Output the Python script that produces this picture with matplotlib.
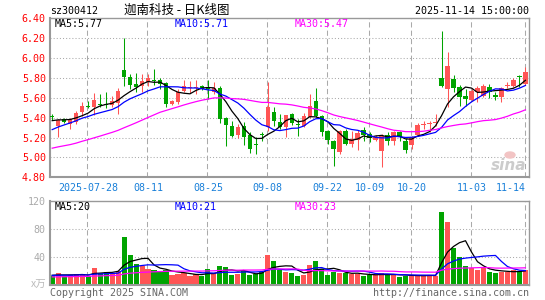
import matplotlib
matplotlib.use("Agg")
import matplotlib.pyplot as plt
import numpy as np
import pandas as pd

plt.rcParams['font.family'] = ['DejaVu Sans Mono', 'Noto Sans CJK SC']

# daily candles 2025-07-18 .. 2025-11-14 (80 trading days)
OPEN = [5.42, 5.32, 5.39, 5.34, 5.36, 5.46, 5.52, 5.51, 5.54, 5.54,
        5.53, 5.55, 5.88, 5.81, 5.74, 5.72, 5.76, 5.78, 5.78, 5.75,
        5.54, 5.56, 5.67, 5.70, 5.70, 5.72, 5.70, 5.66, 5.70, 5.40,
        5.32, 5.23, 5.32, 5.23, 5.14, 5.24, 5.31, 5.46, 5.36, 5.31,
        5.44, 5.34, 5.32, 5.41, 5.57, 5.42, 5.27, 5.17, 5.05, 5.27,
        5.14, 5.18, 5.28, 5.24, 5.18, 5.06, 5.23, 5.17, 5.26, 5.17,
        5.12, 5.23, 5.33, 5.34, 5.35, 5.80, 5.69, 5.79, 5.71, 5.62,
        5.58, 5.66, 5.62, 5.71, 5.63, 5.61, 5.72, 5.72, 5.82, 5.74]
HIGH = [5.44, 5.39, 5.40, 5.40, 5.47, 5.56, 5.57, 5.65, 5.64, 5.66,
        5.62, 5.70, 6.20, 5.84, 5.85, 5.84, 5.84, 5.89, 5.80, 5.76,
        5.58, 5.69, 5.78, 5.77, 5.78, 5.73, 5.78, 5.76, 5.72, 5.41,
        5.37, 5.34, 5.36, 5.26, 5.21, 5.26, 5.76, 5.51, 5.44, 5.43,
        5.45, 5.39, 5.45, 5.64, 5.70, 5.43, 5.28, 5.18, 5.28, 5.29,
        5.27, 5.28, 5.31, 5.26, 5.23, 5.24, 5.26, 5.27, 5.27, 5.20,
        5.22, 5.35, 5.37, 5.37, 5.44, 6.27, 6.06, 5.83, 5.73, 5.69,
        5.69, 5.72, 5.74, 5.74, 5.66, 5.71, 5.76, 5.80, 5.83, 5.91]
LOW = [5.38, 5.21, 5.35, 5.29, 5.34, 5.42, 5.50, 5.43, 5.51, 5.50,
       5.51, 5.44, 5.72, 5.69, 5.66, 5.66, 5.72, 5.73, 5.69, 5.51,
       5.53, 5.54, 5.66, 5.65, 5.64, 5.68, 5.59, 5.64, 5.35, 5.11,
       5.21, 5.20, 5.12, 5.04, 5.03, 5.17, 5.27, 5.32, 5.29, 5.21,
       5.33, 5.22, 5.31, 5.40, 5.41, 5.22, 5.14, 4.91, 5.03, 5.12,
       5.10, 5.07, 5.17, 5.16, 5.17, 4.90, 5.13, 5.12, 5.17, 5.04,
       5.08, 5.22, 5.29, 5.26, 5.32, 5.71, 5.51, 5.66, 5.52, 5.52,
       5.57, 5.56, 5.61, 5.60, 5.58, 5.56, 5.70, 5.71, 5.71, 5.73]
CLOSE = [5.41, 5.38, 5.36, 5.39, 5.45, 5.52, 5.51, 5.58, 5.53, 5.53,
         5.57, 5.67, 5.81, 5.73, 5.71, 5.77, 5.80, 5.77, 5.74, 5.54,
         5.57, 5.66, 5.72, 5.71, 5.71, 5.69, 5.69, 5.70, 5.39, 5.33,
         5.22, 5.31, 5.21, 5.08, 5.13, 5.23, 5.51, 5.37, 5.31, 5.43,
         5.35, 5.33, 5.42, 5.52, 5.42, 5.26, 5.18, 5.08, 5.27, 5.14,
         5.19, 5.25, 5.23, 5.20, 5.21, 5.22, 5.17, 5.26, 5.21, 5.07,
         5.21, 5.33, 5.34, 5.35, 5.36, 5.72, 5.92, 5.70, 5.61, 5.59,
         5.67, 5.70, 5.72, 5.66, 5.61, 5.70, 5.73, 5.78, 5.81, 5.86]
VOLUME = [13.8, 17.1, 13.8, 14.8, 15.7, 15.7, 13.3, 25.2, 17.1, 19.5,
          17.1, 21.0, 69.0, 43.3, 30.0, 27.6, 22.8, 21.9, 20.5, 21.9,
          14.8, 16.2, 17.1, 13.8, 15.7, 13.8, 23.3, 17.1, 27.6, 26.7,
          14.8, 16.2, 20.5, 14.8, 15.7, 19.5, 43.3, 34.8, 21.9, 19.5,
          18.1, 13.8, 14.8, 29.0, 34.8, 23.3, 14.8, 19.5, 18.1, 17.1,
          16.2, 15.7, 13.8, 14.8, 14.8, 18.1, 14.8, 14.8, 12.4, 13.8,
          14.8, 13.8, 13.8, 13.8, 13.8, 105.0, 91.0, 53.8, 41.0, 27.6,
          24.3, 21.9, 24.3, 19.5, 18.1, 19.5, 18.5, 21.5, 21.0, 22.5]

# estimated closes / volumes before the window, only to seed the moving averages
PRE_CLOSE = [4.98, 5.02, 5.05, 5.00, 4.96, 5.01, 5.04, 5.00, 4.97, 5.02,
             5.05, 5.03, 4.99, 4.95, 4.97, 5.00, 4.98, 4.96, 4.99, 5.02,
             5.12, 5.15, 5.19, 5.23, 5.26, 5.34, 5.36, 5.37, 5.37]
PRE_VOLUME = [10.5, 11.0, 12.0, 10.0, 11.5, 10.8, 11.2, 9.8, 10.5, 11.0,
              12.0, 10.2, 10.8, 11.5, 10.0, 11.0, 10.4, 10.9, 11.3, 10.6,
              13.5, 14.0, 14.5, 13.0, 14.2, 14.8, 13.6, 14.4, 15.0]

TICK_POS = [6, 16, 26, 36, 46, 53, 60, 70, 79]
TICK_LABELS = ["2025-07-28", "08-11", "08-25", "09-08", "09-22",
               "10-09", "10-20", "11-03", "11-14"]
PRICE_TICKS = [4.80, 5.00, 5.20, 5.40, 5.60, 5.80, 6.00, 6.20, 6.40]
VOL_TICKS = [40, 80, 120]

RED = "#ff5555"
GREEN = "#00a400"
GRID = "#aaaaaa"
W, H = 545, 300


def box(l, t, r, b):
    return [l / W, 1 - b / H, (r - l) / W, (b - t) / H]


def ftext(x, y, s, **kw):
    kw.setdefault("fontsize", 7.2)
    kw.setdefault("va", "center")
    fig.text(x / W, 1 - y / H, s, **kw)


o, h, l, c = map(np.array, (OPEN, HIGH, LOW, CLOSE))
vol = np.array(VOLUME)
x = np.arange(len(c))
up = c >= o
colors = np.where(up, RED, GREEN)

closes = pd.Series(PRE_CLOSE + CLOSE)
vols = pd.Series(PRE_VOLUME + VOLUME)
n0 = len(PRE_CLOSE)

fig = plt.figure(figsize=(W / 100, H / 100), dpi=100)
fig.patch.set_facecolor("white")
ax = fig.add_axes(box(50, 18.3, 529, 177.3))
axv = fig.add_axes(box(50, 201.3, 529, 285.3))

xlim = ((50 - 52.2) / 5.99, (529 - 52.2) / 5.99)
for a in (ax, axv):
    a.set_xlim(*xlim)
    for p in TICK_POS:
        a.axvline(p - 0.15, color=GRID, lw=0.75, ls=(0, (5, 3)), zorder=0)
    for side in ("top", "right"):
        a.spines[side].set_color("#999999")
        a.spines[side].set_linewidth(1)
    for side in ("left", "bottom"):
        a.spines[side].set_color("#999999")
        a.spines[side].set_linewidth(1.5)
    a.tick_params(length=0)

# price panel
ax.set_ylim(4.80, 6.40)
for p in PRICE_TICKS[1:-1]:
    ax.axhline(p, color=GRID, lw=0.75, ls=(0, (1, 2)), zorder=0)
ax.vlines(x, l, h, colors=colors, lw=0.75, zorder=2)
body = np.maximum(np.abs(c - o), 0.006)
ax.bar(x, body, bottom=np.minimum(o, c), width=0.75, color=colors,
       linewidth=0, zorder=3)
for win, col in ((5, "black"), (10, "#0000ff"), (30, "#ff00ff")):
    ma = closes.rolling(win).mean().iloc[n0:].to_numpy()
    ax.plot(x, ma, color=col, lw=0.9, zorder=4)
ax.set_yticks(PRICE_TICKS)
ax.set_yticklabels([f"{p:.2f}" for p in PRICE_TICKS], color="red", fontsize=7.2)
ax.tick_params(axis="y", pad=3)
ax.set_xticks(TICK_POS)
ax.set_xticklabels(TICK_LABELS, color="#1a80d9", fontsize=7.2)
ax.get_xticklabels()[-1].set_ha("right")
ax.tick_params(axis="x", pad=4)

# volume panel
axv.set_ylim(0, 120)
for v in VOL_TICKS[:-1]:
    axv.axhline(v, color=GRID, lw=0.75, ls=(0, (1, 2)), zorder=0)
axv.bar(x, vol, width=0.85, color=colors, linewidth=0, zorder=2)
for win, col in ((5, "black"), (10, "#0000ff"), (30, "#ff00ff")):
    ma = vols.rolling(win).mean().iloc[n0:].to_numpy()
    axv.plot(x, ma, color=col, lw=0.9, zorder=4)
axv.set_yticks(VOL_TICKS)
axv.set_yticklabels([str(v) for v in VOL_TICKS], color="#aaaaaa", fontsize=7.2)
axv.tick_params(axis="y", pad=3)
axv.set_xticks([])

# header and labels
ftext(50, 11, "sz300412", ha="left")
ftext(177, 10, "迦南科技 - 日K线图", ha="center", fontsize=9,
      family=["Noto Sans CJK SC", "DejaVu Sans"])
ftext(529, 11, "2025-11-14 15:00:00", ha="right")
ftext(55, 24, "MA5:5.77", ha="left", color="black")
ftext(175, 24, "MA10:5.71", ha="left", color="#0000ff")
ftext(295, 24, "MA30:5.47", ha="left", color="#ff00ff")
ftext(55, 207, "MA5:20", ha="left", color="black")
ftext(175, 207, "MA10:21", ha="left", color="#0000ff")
ftext(295, 207, "MA30:23", ha="left", color="#ff00ff")
ftext(46, 285, "x万", ha="right", color="#bbbbbb", fontsize=7.5,
      family=["Noto Sans CJK SC", "DejaVu Sans"])
ftext(50, 293, "Copyright 2025 SINA.COM", ha="left", color="#666666")
ftext(529, 293, "http://finance.sina.com.cn", ha="right", color="#666666")

# sina watermark
ftext(526, 165, "sina", ha="right", color="#cccccc", fontsize=11,
      weight="bold", style="italic", family=["DejaVu Sans"])
fig.patches.append(matplotlib.patches.Ellipse((510 / W, 1 - 155 / H), 10 / W, 6 / H,
                                              transform=fig.transFigure,
                                              color="#f2c4c4", zorder=5))

fig.savefig("out.png", dpi=100, facecolor="white")
